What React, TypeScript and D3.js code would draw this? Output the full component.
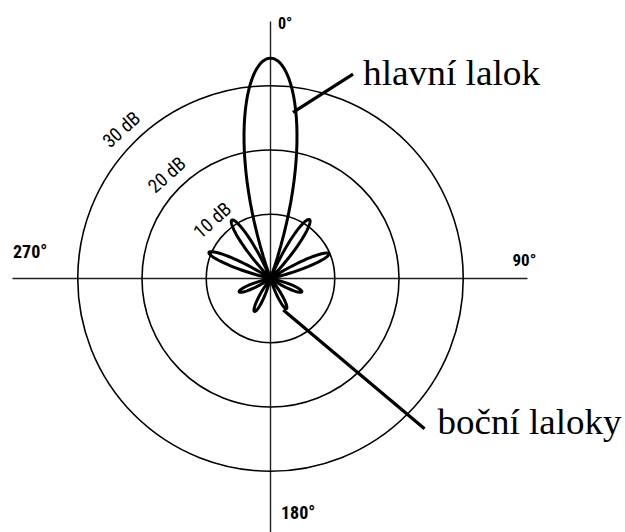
import React from "react";
import * as d3 from "d3";

const WIDTH = 625;
const HEIGHT = 532;
const CX = 270.5;
const CY = 278.5;

// radiation pattern lobes: direction (deg, 0 = up, clockwise), peak level (dB), half beam width (deg)
const lobeAngles = [0, -33.5, 33.5, -67, 67, -113, 113, -154, 152];
const lobeLevels = [34.3, 10.9, 11.0, 10.4, 9.9, 5.3, 5.3, 5.7, 5.3];
const lobeWidths = [19.4, 10.5, 10.5, 9.5, 9.5, 11, 11, 11, 11];

const ringLevels = [10, 20, 30];
const ringLabels = ["10 dB", "20 dB", "30 dB"];

const axisLabels = ["0°", "90°", "180°", "270°"];

// annotations: [angle, dB] of the pointer start (on the lobe) and end (at the text)
const noteTexts = ["hlavní lalok", "boční laloky"];
const noteFrom: [number, number][] = [[7.7, 26.1], [158, 5.3]];
const noteTo: [number, number][] = [[22, 34.3], [134.3, 33.5]];

const rScale = d3.scaleLinear().domain([0, 40]).range([0, 257]);

const toXY = (angleDeg: number, db: number) => {
  const a = (angleDeg * Math.PI) / 180;
  const r = rScale(db);
  return [Math.sin(a) * r, -Math.cos(a) * r];
};

const lobePath = (angle: number, level: number, hw: number) => {
  const line = d3
    .lineRadial<number>()
    .angle((t) => ((angle + t) * Math.PI) / 180)
    .radius((t) => rScale(level) * Math.cos((Math.PI / 2) * (t / hw)))
    .curve(d3.curveLinear);
  const ts = d3.range(-hw, hw + 0.001, hw / 30);
  return line(ts) + "Z";
};

const sansNarrow = { fontFamily: "'Roboto Condensed'" };
const serif = { fontFamily: "'Liberation Serif'" };

export default function App() {
  const axisEnd = rScale(40);
  const [xf0, yf0] = toXY(noteFrom[0][0], noteFrom[0][1]);
  const [xt0, yt0] = toXY(noteTo[0][0], noteTo[0][1]);
  const [xf1, yf1] = toXY(noteFrom[1][0], noteFrom[1][1]);
  const [xt1, yt1] = toXY(noteTo[1][0], noteTo[1][1]);

  return (
    <svg
      width={WIDTH}
      height={HEIGHT}
      style={{ position: "absolute", left: 0, top: 0, background: "#fff" }}
    >
      <g transform={`translate(${CX},${CY})`}>
        {/* axes */}
        <line x1={-axisEnd - 1} y1={0} x2={axisEnd} y2={0} stroke="#222" strokeWidth={1.4} />
        <line x1={0} y1={-axisEnd} x2={0} y2={axisEnd} stroke="#222" strokeWidth={1.4} />

        {/* rings */}
        {ringLevels.map((lv) => (
          <circle key={lv} r={rScale(lv)} fill="none" stroke="#000" strokeWidth={1.6} />
        ))}

        {/* ring labels */}
        {ringLevels.map((lv, i) => {
          const [x, y] = toXY(-45, lv + 2.8);
          return (
            <text
              key={lv}
              transform={`translate(${x},${y}) rotate(-42)`}
              textAnchor="middle"
              dominantBaseline="central"
              style={sansNarrow}
              fontSize={19}
              fill="#000"
            >
              {ringLabels[i]}
            </text>
          );
        })}

        {/* lobes */}
        {lobeAngles.map((a, i) => (
          <path
            key={i}
            d={lobePath(a, lobeLevels[i], lobeWidths[i])}
            fill="none"
            stroke="#000"
            strokeWidth={3}
            strokeLinejoin="round"
          />
        ))}

        {/* axis labels */}
        <text x={7.5} y={-axisEnd + 7} style={sansNarrow} fontWeight="bold" fontSize={16}>
          {axisLabels[0]}
        </text>
        <text x={242} y={-12.5} style={sansNarrow} fontWeight="bold" fontSize={17}>
          {axisLabels[1]}
        </text>
        <text x={10.5} y={240.5} style={sansNarrow} fontWeight="bold" fontSize={18}>
          {axisLabels[2]}
        </text>
        <text x={-axisEnd - 0.5} y={-20.5} style={sansNarrow} fontWeight="bold" fontSize={18}>
          {axisLabels[3]}
        </text>

        {/* annotations */}
        <line x1={xf0} y1={yf0} x2={xt0} y2={yt0} stroke="#000" strokeWidth={3.2} />
        <line x1={xf1} y1={yf1} x2={xt1} y2={yt1} stroke="#000" strokeWidth={3.2} />
        <text transform={`translate(${xt0 + 10},${yt0 + 11}) scale(1.066,1)`} style={serif} fontSize={35}>
          {noteTexts[0]}
        </text>
        <text transform={`translate(${xt1 + 13},${yt1 + 5}) scale(1.057,1)`} style={serif} fontSize={35}>
          {noteTexts[1]}
        </text>
      </g>
    </svg>
  );
}
